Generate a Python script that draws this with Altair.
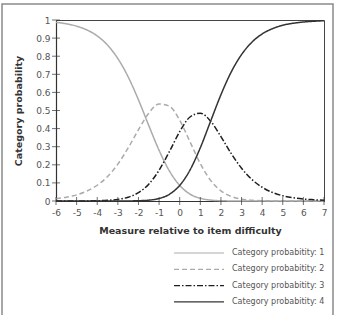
import altair as alt
import pandas as pd

# Values
theta = [-6, -5.5, -5, -4.5, -4, -3.5, -3, -2.5, -2, -1.5, -1, -0.5, 0, 0.5, 1, 1.5,
         2, 2.5, 3, 3.5, 4, 4.5, 5, 5.5, 6, 6.5, 7]
cat1 = [0.987, 0.979, 0.966, 0.945, 0.912, 0.861, 0.787, 0.686, 0.559, 0.417, 0.280, 0.166,
        0.086, 0.038, 0.015, 0.005, 0.0015, 0.0004, 0.0001, 0.0, 0.0, 0.0, 0.0, 0.0, 0.0, 0.0, 0.0]
cat2 = [0.013, 0.021, 0.034, 0.055, 0.087, 0.135, 0.204, 0.293, 0.394, 0.485, 0.536, 0.524,
        0.446, 0.327, 0.207, 0.114, 0.056, 0.025, 0.010, 0.004, 0.0016, 0.0006, 0.0002, 0.0001, 0.0, 0.0, 0.0]
cat3 = [0.0, 0.0001, 0.0002, 0.0005, 0.0014, 0.0035, 0.009, 0.021, 0.046, 0.093, 0.170, 0.273,
        0.383, 0.464, 0.485, 0.441, 0.356, 0.262, 0.181, 0.119, 0.076, 0.047, 0.029, 0.018, 0.011, 0.007, 0.004]
cat4 = [0.0, 0.0, 0.0, 0.0, 0.0, 0.0, 0.0001, 0.0004, 0.0014, 0.0046, 0.014, 0.037,
        0.086, 0.171, 0.294, 0.441, 0.587, 0.713, 0.809, 0.877, 0.923, 0.952, 0.971, 0.982, 0.989, 0.993, 0.996]

labels = ["Category probabitity: 1", "Category probabitity: 2",
          "Category probabitity: 3", "Category probabitity: 4"]
x_ticks = [-6, -5, -4, -3, -2, -1, 0, 1, 2, 3, 4, 5, 6, 7]
y_ticks = [0, 0.1, 0.2, 0.3, 0.4, 0.5, 0.6, 0.7, 0.8, 0.9, 1]

colors = ["#ababab", "#ababab", "#1e1e1e", "#333333"]
dashes = [[1, 0], [5, 3], [6, 2, 1.5, 2], [1, 0]]

rows = []
for lab, ser in zip(labels, [cat1, cat2, cat3, cat4]):
    for t, v in zip(theta, ser):
        rows.append({"theta": t, "p": v, "cat": lab})
df = pd.DataFrame(rows)

FONT = "DejaVu Sans"
xscale = alt.Scale(domain=[-6, 7], nice=False, zero=False)
yscale = alt.Scale(domain=[0, 1], nice=False)

xaxis = alt.Axis(values=x_ticks, labelExpr="'' + datum.value", title="Measure relative to item difficulty",
                 ticks=False, labelPadding=7, titlePadding=8, grid=False,
                 labelOverlap=False, labelFlush=False)
yaxis = alt.Axis(values=y_ticks, labelExpr="'' + datum.value", title="Category probability",
                 ticks=False, labelPadding=6, titlePadding=12, grid=False,
                 labelOverlap=False, labelFlush=False)

# long horizontal stroke symbol (unit path scaled by the symbol size)
legend = alt.Legend(
    title=None, orient="none", legendX=136, legendY=226,
    symbolType="M-4,0H4", symbolSize=156, symbolStrokeWidth=1.2,
    labelFont=FONT, labelFontSize=8, labelColor="#555555",
    labelOffset=26, rowPadding=5.3, padding=0,
)

lines = alt.Chart(df).mark_line(strokeWidth=1.5, interpolate="monotone").encode(
    x=alt.X("theta:Q", scale=xscale, axis=xaxis),
    y=alt.Y("p:Q", scale=yscale, axis=yaxis),
    color=alt.Color("cat:N", scale=alt.Scale(domain=labels, range=colors), legend=legend),
    strokeDash=alt.StrokeDash("cat:N", scale=alt.Scale(domain=labels, range=dashes), legend=legend),
)

xt = alt.Chart(pd.DataFrame({"t": x_ticks})).mark_tick(
    orient="vertical", size=8, thickness=1, color="#333333"
).encode(x=alt.X("t:Q", scale=xscale, axis=xaxis), y=alt.value(181))

yt = alt.Chart(pd.DataFrame({"t": y_ticks})).mark_tick(
    orient="horizontal", size=8, thickness=1, color="#333333"
).encode(y=alt.Y("t:Q", scale=yscale, axis=yaxis), x=alt.value(0))

frame = alt.Chart(pd.DataFrame({"a": [0]})).mark_rect(
    fill=None, stroke="#8a8a8a", strokeWidth=1.5
).encode(x=alt.value(-54), x2=alt.value(277), y=alt.value(-16), y2=alt.value(300))

chart = alt.layer(frame, lines, xt, yt).properties(
    width=268, height=181,
    padding={"left": 56, "top": 20, "right": 17, "bottom": 114},
    autosize=alt.AutoSizeParams(type="none"),
    background="white",
).configure_view(
    stroke="#444444", strokeWidth=1
).configure_axis(
    domainColor="#333333", domainWidth=1.2,
    labelFont=FONT, labelFontSize=9, labelColor="#555555",
    titleFont=FONT, titleFontSize=9.5, titleFontWeight="bold", titleColor="#333333",
)

chart.save("out.html", embed_options={"renderer": "svg", "actions": False})
